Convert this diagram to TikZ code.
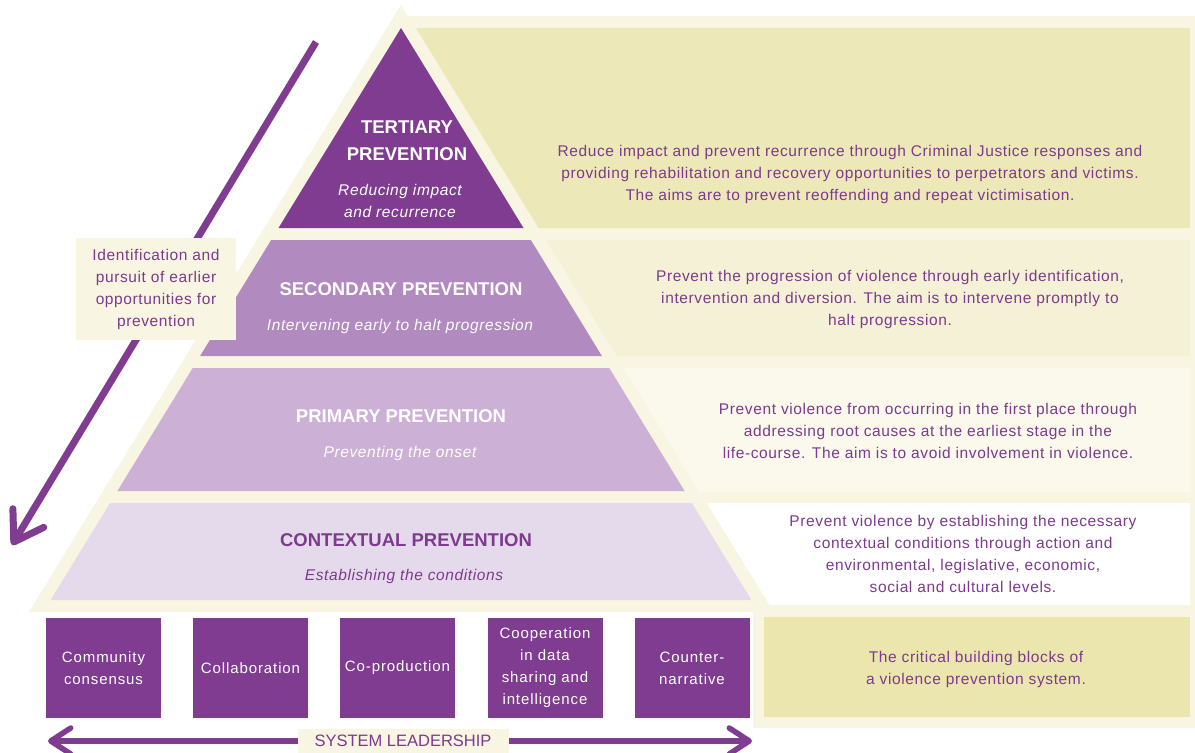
\documentclass[tikz,border=0pt]{standalone}
\usepackage{fontspec}
\setmainfont{Liberation Sans}
\usetikzlibrary{arrows.meta}

\definecolor{vpurple}{RGB}{128,60,144}
\definecolor{vsec}{RGB}{177,138,191}
\definecolor{vpri}{RGB}{205,176,214}
\definecolor{vctx}{RGB}{229,218,235}
\definecolor{vcream}{RGB}{248,245,226}
\definecolor{pterti}{RGB}{237,232,184}
\definecolor{psec}{RGB}{245,241,214}
\definecolor{ppri}{RGB}{250,249,236}
\definecolor{pbase}{RGB}{235,230,173}
\definecolor{vtext}{RGB}{125,58,142}

\tikzset{
  leveltitle/.style={font=\fontsize{18.5bp}{27bp}\selectfont\bfseries, align=center, inner sep=0pt},
  levelsub/.style={font=\fontsize{15.5bp}{22bp}\selectfont\itshape\addfontfeature{LetterSpace=4},
    align=center, inner sep=0pt},
  paneltext/.style={text=vtext, font=\fontsize{15.5bp}{22bp}\selectfont\addfontfeature{LetterSpace=4},
    align=center, inner sep=0pt},
  block/.style={fill=vpurple, text=white, minimum width=115bp, minimum height=100bp,
    inner sep=0pt, align=center, font=\fontsize{15bp}{22bp}\selectfont\addfontfeature{LetterSpace=6}},
  bigarrow/.style={draw=vpurple, line width=7bp,
    -{Straight Barb[length=28bp, width=36bp, round]}},
  leadarrow/.style={draw=vpurple, line width=5.5bp,
    {Straight Barb[length=20bp, width=26bp, round]}-{Straight Barb[length=20bp, width=26bp, round]}},
}

\begin{document}
\begin{tikzpicture}[x=1bp, y=-1bp]
\useasboundingbox (0,0) rectangle (1195,753);
\fill[white] (0,0) rectangle (1195,753);

% cream frame behind pyramid and panels
\fill[vcream] (401,5) -- (407.7,16) -- (1195,16) -- (1195,728) -- (753,728)
  -- (753,612) -- (29,612) -- cycle;

% pyramid levels
\fill[vpurple] (401,28) -- (523.5,228) -- (278.5,228) -- cycle;
\fill[vsec] (271.15,240) -- (530.85,240) -- (601.9,356) -- (200.1,356) -- cycle;
\fill[vpri] (192.75,368) -- (609.25,368) -- (684.6,491) -- (117.4,491) -- cycle;
\fill[vctx] (110.1,503) -- (691.9,503) -- (751.35,600) -- (50.65,600) -- cycle;

% description panels
\fill[pterti] (416,28) -- (1190,28) -- (1190,228) -- (538.5,228) -- cycle;
\fill[psec] (545.85,240) -- (1190,240) -- (1190,356) -- (616.9,356) -- cycle;
\fill[ppri] (624.25,368) -- (1190,368) -- (1190,492) -- (699.2,492) -- cycle;
\fill[white] (706.9,503) -- (1190,503) -- (1190,605) -- (769.4,605) -- cycle;
\fill[pbase] (764,617) rectangle (1190,717);

% level titles
\node[leveltitle, text=white] (terttitle) at (407,141) {TERTIARY\\PREVENTION};
\node[levelsub, text=white] (tertsub) at (400,201) {Reducing impact\\and recurrence};
\node[leveltitle, text=white] (sectitle) at (401,289) {SECONDARY PREVENTION};
\node[levelsub, text=white] (secsub) at (400,326) {Intervening early to halt progression};
\node[leveltitle, text=white] (primtitle) at (401,416) {PRIMARY PREVENTION};
\node[levelsub, text=white] (primsub) at (400,453) {Preventing the onset};
\node[leveltitle, text=vtext] (ctxtitle) at (406,540) {CONTEXTUAL PREVENTION};
\node[levelsub, text=vtext] (ctxsub) at (404,576) {Establishing the conditions};

% panel descriptions
\node[paneltext] (terttext) at (850,174) {Reduce impact and prevent recurrence through Criminal Justice responses and\\
  providing rehabilitation and recovery opportunities to perpetrators and victims.\\
  The aims are to prevent reoffending and repeat victimisation.};
\node[paneltext] (sectext) at (890,299) {Prevent the progression of violence through early identification,\\
  intervention and diversion. The aim is to intervene promptly to\\
  halt progression.};
\node[paneltext] (primtext) at (928,431) {Prevent violence from occurring in the first place through\\
  addressing root causes at the earliest stage in the\\
  life-course. The aim is to avoid involvement in violence.};
\node[paneltext] (ctxtext) at (963,554) {Prevent violence by establishing the necessary\\
  contextual conditions through action and\\
  environmental, legislative, economic,\\
  social and cultural levels.};
\node[paneltext] (basetext) at (976,669) {The critical building blocks of\\a violence prevention system.};

% earlier identification arrow with its label
\coordinate (diagtop) at (316,42);
\coordinate (diagtip) at (12,545);
\draw[bigarrow] (diagtop) -- (diagtip);
\node[fill=vcream, minimum width=160bp, minimum height=102bp, inner sep=0pt,
  paneltext] (idlabel) at (156,289)
  {Identification and\\pursuit of earlier\\opportunities for\\prevention};

% building blocks
\node[block] (b1) at (103.5,668) {Community\\consensus};
\node[block] (b2) at (250.5,668) {Collaboration};
\node[block] (b3) at (397.5,668) {Co-production};
\node[block] (b4) at (545,668) {Cooperation\\in data\\sharing and\\intelligence};
\node[block] (b5) at (692,668) {Counter-\\narrative};

% system leadership arrow
\coordinate (slleft) at (48,741);
\coordinate (slright) at (752,741);
\draw[leadarrow] (slleft) -- (slright);
\node[fill=vcream, text=vtext, minimum width=211bp, minimum height=25bp, inner sep=0pt,
  font=\fontsize{16.5bp}{20bp}\selectfont] (sysl) at (403,741) {SYSTEM LEADERSHIP};
\end{tikzpicture}
\end{document}
